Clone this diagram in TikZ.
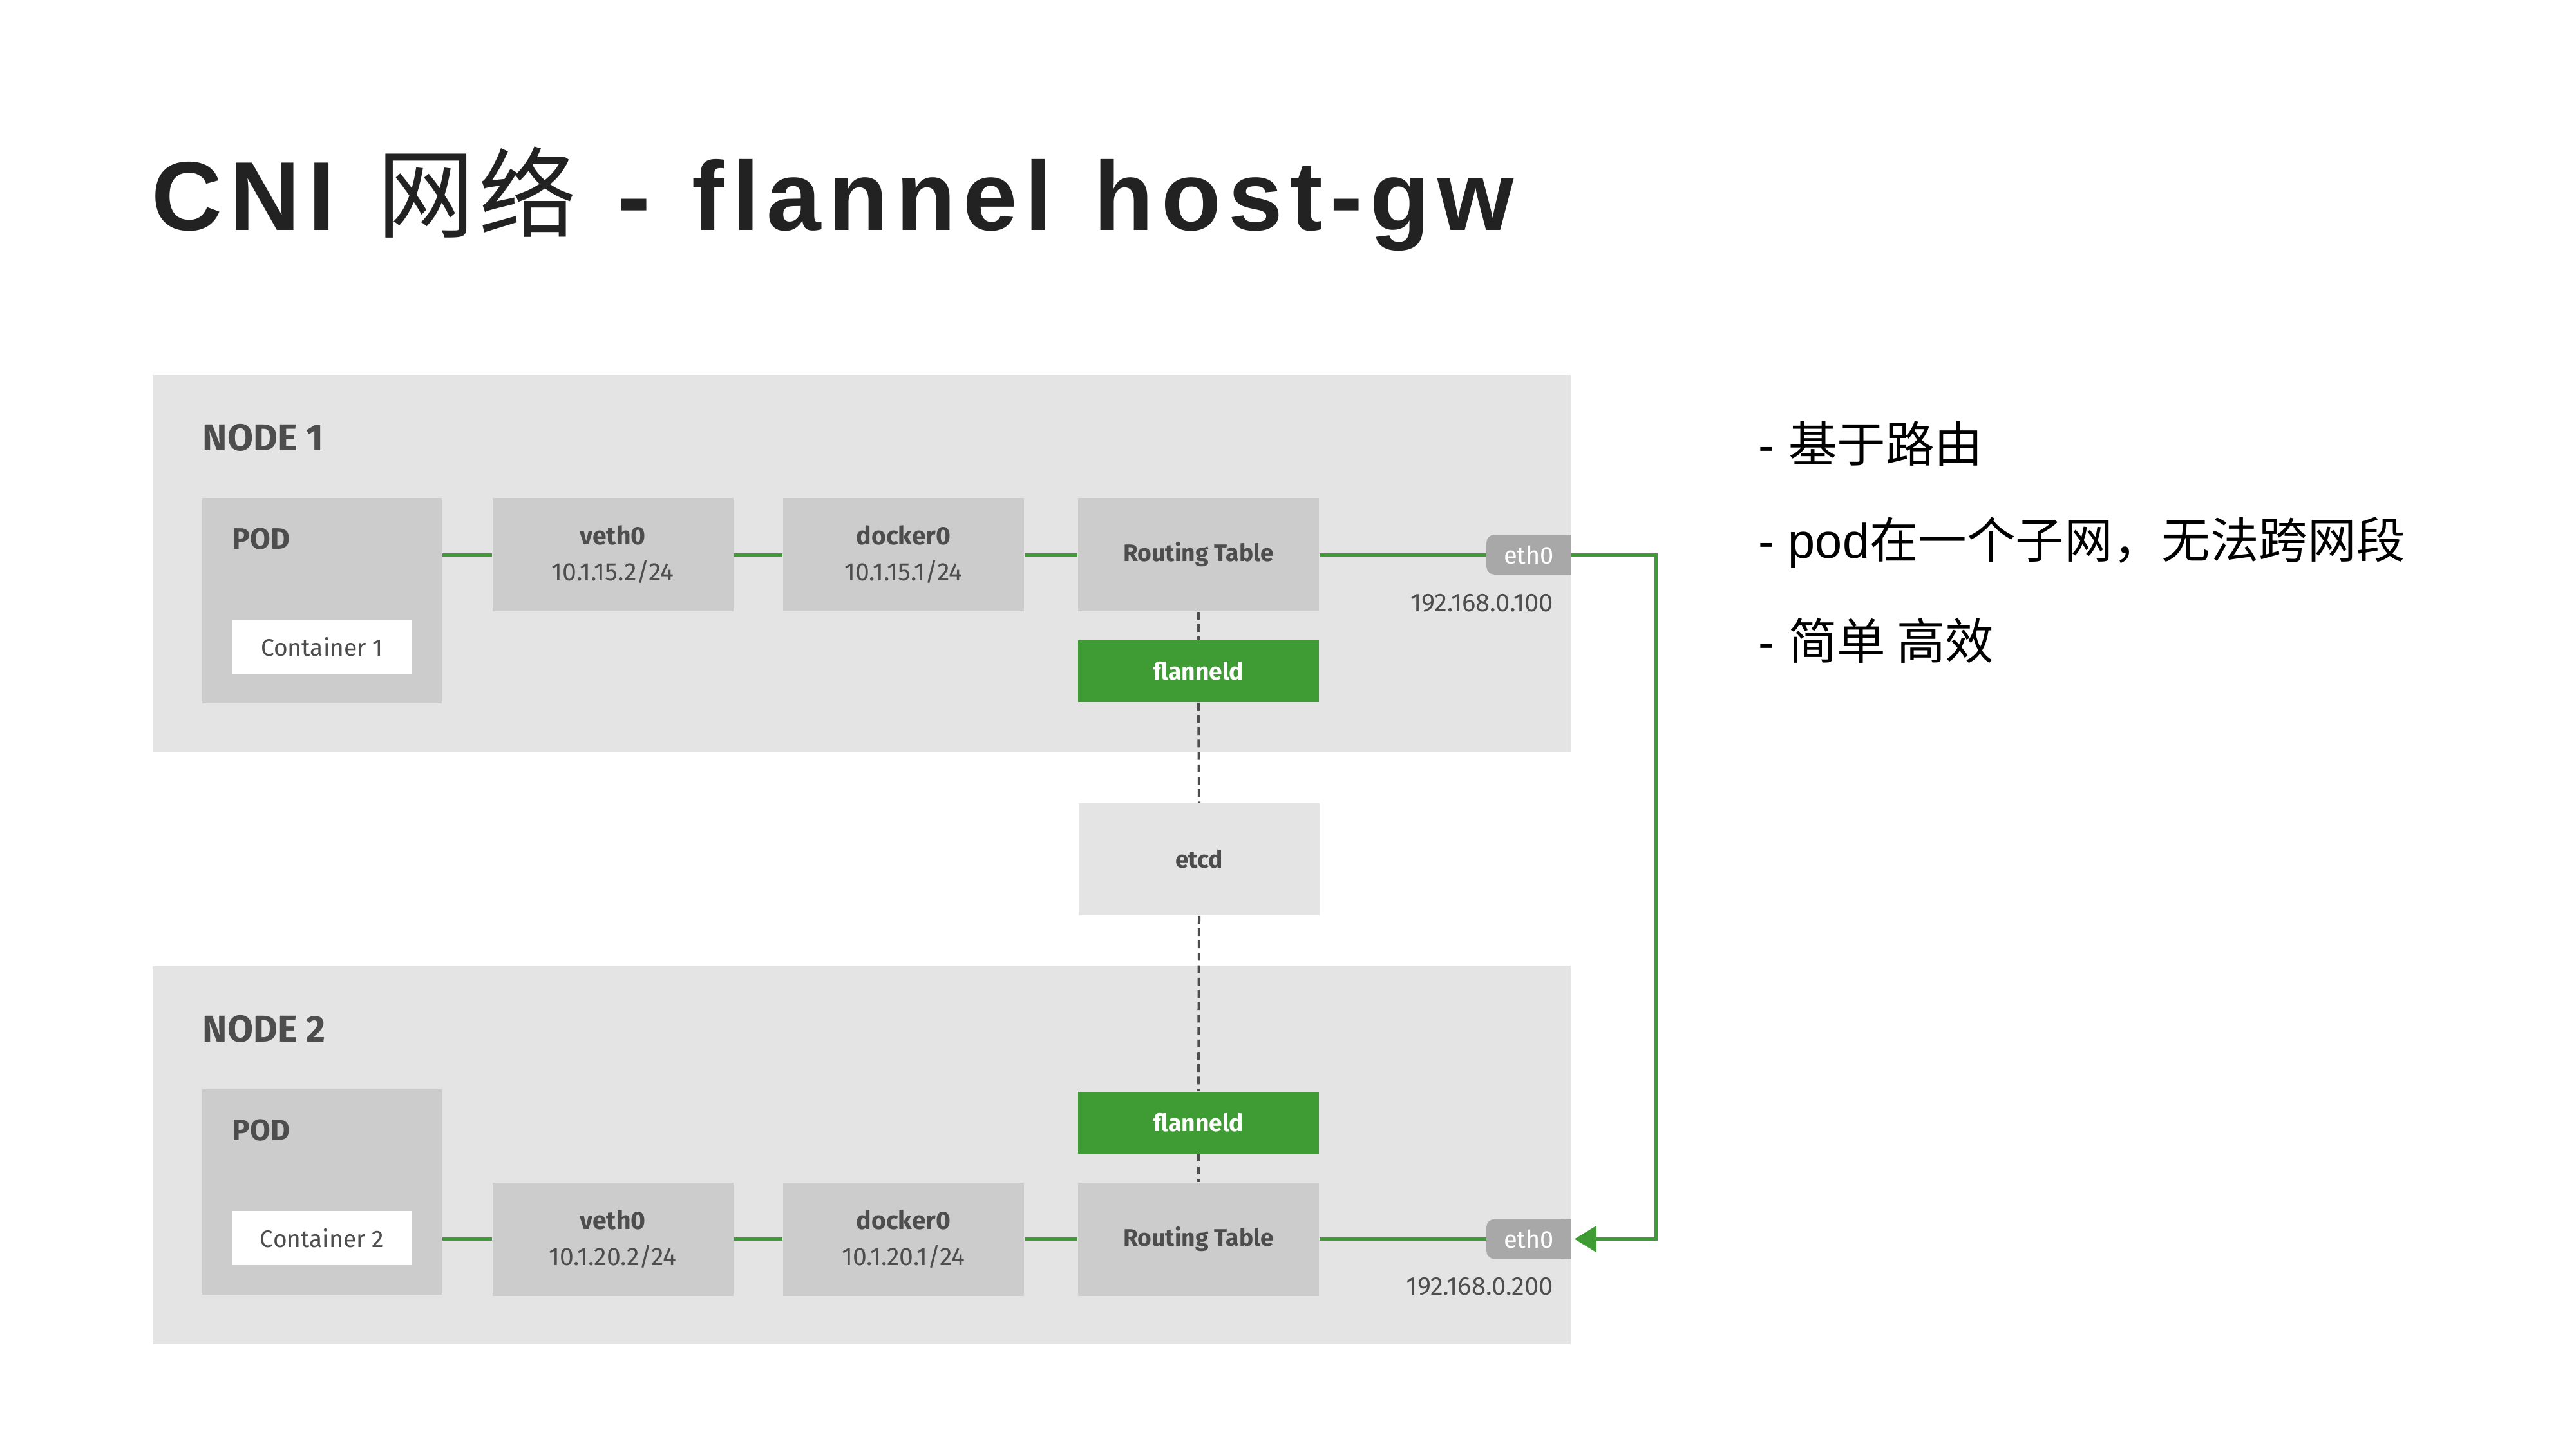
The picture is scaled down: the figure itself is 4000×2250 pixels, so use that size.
\documentclass[tikz,border=0pt]{standalone}
\usepackage{fontspec}
\setmainfont{Liberation Sans}
\newfontfamily\dfont{Fira Sans}
\newfontfamily\cjk{Noto Sans CJK SC}
\newfontfamily\titlefont[LetterSpace=7.6,WordSpace=1.2]{Liberation Sans}
\newfontfamily\cjktitle[LetterSpace=4]{Noto Sans CJK SC}
\usetikzlibrary{arrows.meta}
\pgfdeclarelayer{bg}
\pgfsetlayers{bg,main}
\definecolor{hostgray}{HTML}{E4E4E4}
\definecolor{boxgray}{HTML}{CCCCCC}
\definecolor{ethgray}{HTML}{A8A8A8}
\definecolor{flgreen}{HTML}{3F9C35}
\definecolor{txtdark}{HTML}{4D4D4D}
\definecolor{titlecol}{HTML}{222222}
\begin{document}
\begin{tikzpicture}[x=0.25pt, y=-0.25pt,
  hostbox/.style={fill=hostgray, inner sep=0pt, minimum width=550.5pt, minimum height=146.5pt},
  hostlabel/.style={anchor=west, inner sep=0pt, text=txtdark, font=\dfont\bfseries\fontsize{14.5}{16}\selectfont},
  podlabel/.style={anchor=west, inner sep=0pt, text=txtdark, font=\dfont\bfseries\fontsize{11.5}{13}\selectfont},
  graybox/.style={fill=boxgray, inner sep=0pt, minimum width=93.5pt, minimum height=44pt, align=center, text=txtdark, font=\dfont\fontsize{9.8}{14}\selectfont},
  podbox/.style={fill=boxgray, inner sep=0pt, minimum width=93pt, minimum height=79.75pt},
  contbox/.style={fill=white, inner sep=0pt, minimum width=70pt, minimum height=21pt, text=txtdark, font=\dfont\fontsize{9.3}{11}\selectfont},
  greenbox/.style={fill=flgreen, inner sep=0pt, minimum width=93.5pt, minimum height=24pt, text=white, font=\dfont\bfseries\fontsize{9.3}{11}\selectfont},
  etcdbox/.style={fill=hostgray, inner sep=0pt, minimum width=93.5pt, minimum height=43.5pt, text=txtdark, font=\dfont\bfseries\fontsize{9.3}{11}\selectfont},
  ethtab/.style={inner sep=0pt, minimum width=32.5pt, minimum height=15pt, text=white, font=\dfont\fontsize{9.5}{11}\selectfont},
  iplabel/.style={anchor=east, inner sep=0pt, text=txtdark, font=\dfont\fontsize{10}{11}\selectfont},
  link/.style={draw=flgreen, line width=1.25pt},
  dashlink/.style={draw=txtdark, line width=1pt, dash pattern=on 3pt off 1.8pt},
  bullet/.style={anchor=west, inner sep=0pt, text=black, font=\fontsize{18.9}{22}\selectfont}
]
\useasboundingbox (0,0) rectangle (4000,2250);

% title
\node[anchor=base west, inner sep=0pt, text=titlecol, font=\titlefont\bfseries\fontsize{38}{40}\selectfont] (title) at (235,357) {CNI {\cjktitle\mdseries 网络} - flannel host-gw};

% node 1
\node[hostlabel] (n1label) at (314,679) {NODE 1};
\node[podbox] (pod1) at (500,932.5) {};
\node[podlabel] (pod1label) at (360,837) {POD};
\node[contbox] (cont1) at (500,1004) {Container 1};
\node[graybox] (veth1) at (951.5,861) {\textbf{veth0}\\10.1.15.2/24};
\node[graybox] (dock1) at (1403,861) {\textbf{docker0}\\10.1.15.1/24};
\node[graybox, font=\dfont\bfseries\fontsize{9.3}{11}\selectfont] (rt1) at (1861,861) {Routing Table};
\node[greenbox] (fl1) at (1861,1042) {flanneld};
\node[ethtab] (eth1) at (2374,861) {eth0};
\node[iplabel] (ip1) at (2413,936) {192.168.0.100};

% etcd
\node[etcdbox] (etcd) at (1862,1334) {etcd};

% node 2
\node[hostlabel] (n2label) at (314,1597) {NODE 2};
\node[podbox] (pod2) at (500,1850.5) {};
\node[podlabel] (pod2label) at (360,1755) {POD};
\node[contbox] (cont2) at (500,1922) {Container 2};
\node[graybox] (veth2) at (951.5,1923.5) {\textbf{veth0}\\10.1.20.2/24};
\node[graybox] (dock2) at (1403,1923.5) {\textbf{docker0}\\10.1.20.1/24};
\node[graybox, font=\dfont\bfseries\fontsize{9.3}{11}\selectfont] (rt2) at (1861,1923.5) {Routing Table};
\node[greenbox] (fl2) at (1861,1742.5) {flanneld};
\node[ethtab] (eth2) at (2374,1923.5) {eth0};
\node[iplabel] (ip2) at (2413,1997) {192.168.0.200};

% backgrounds
\begin{pgfonlayer}{bg}
\node[hostbox] (host1) at (1338,875) {};
\node[hostbox, minimum height=146.75pt] (host2) at (1338,1793.5) {};
\fill[ethgray, rounded corners=3pt] (eth1.north west) rectangle (eth1.south east);
\fill[ethgray] (eth1.north) rectangle (eth1.south east);
\fill[ethgray, rounded corners=3pt] (eth2.north west) rectangle (eth2.south east);
\fill[ethgray] (eth2.north) rectangle (eth2.south east);
\end{pgfonlayer}

% green links node 1
\draw[link] (veth1.west -| pod1.east) -- (veth1.west);
\draw[link] (veth1.east) -- (dock1.west);
\draw[link] (dock1.east) -- (rt1.west);
\draw[link] (rt1.east) -- (eth1.west);
% green links node 2
\draw[link] (veth2.west -| pod2.east) -- (veth2.west);
\draw[link] (veth2.east) -- (dock2.west);
\draw[link] (dock2.east) -- (rt2.west);
\draw[link] (rt2.east) -- (eth2.west);

% host-gw route
\coordinate (bend) at (2571,1400);
\draw[link, -{Triangle[length=8.5pt,width=10pt]}, shorten >=1.25pt] (eth1.east) -| (bend) |- (eth2.east);

% dashed control links
\draw[dashlink] (rt1.south) -- (fl1.north);
\draw[dashlink] (fl1.south) -- (etcd.north);
\draw[dashlink] (etcd.south) -- (fl2.north);
\draw[dashlink] (fl2.south) -- (rt2.north);

% bullets
\node[bullet] (b1) at (2730,689) {- {\cjk 基于路由}};
\node[bullet] (b2) at (2730,842) {- pod{\cjk 在一个子网，无法跨网段}};
\node[bullet] (b3) at (2730,995) {- {\cjk 简单 高效}};
\end{tikzpicture}
\end{document}
